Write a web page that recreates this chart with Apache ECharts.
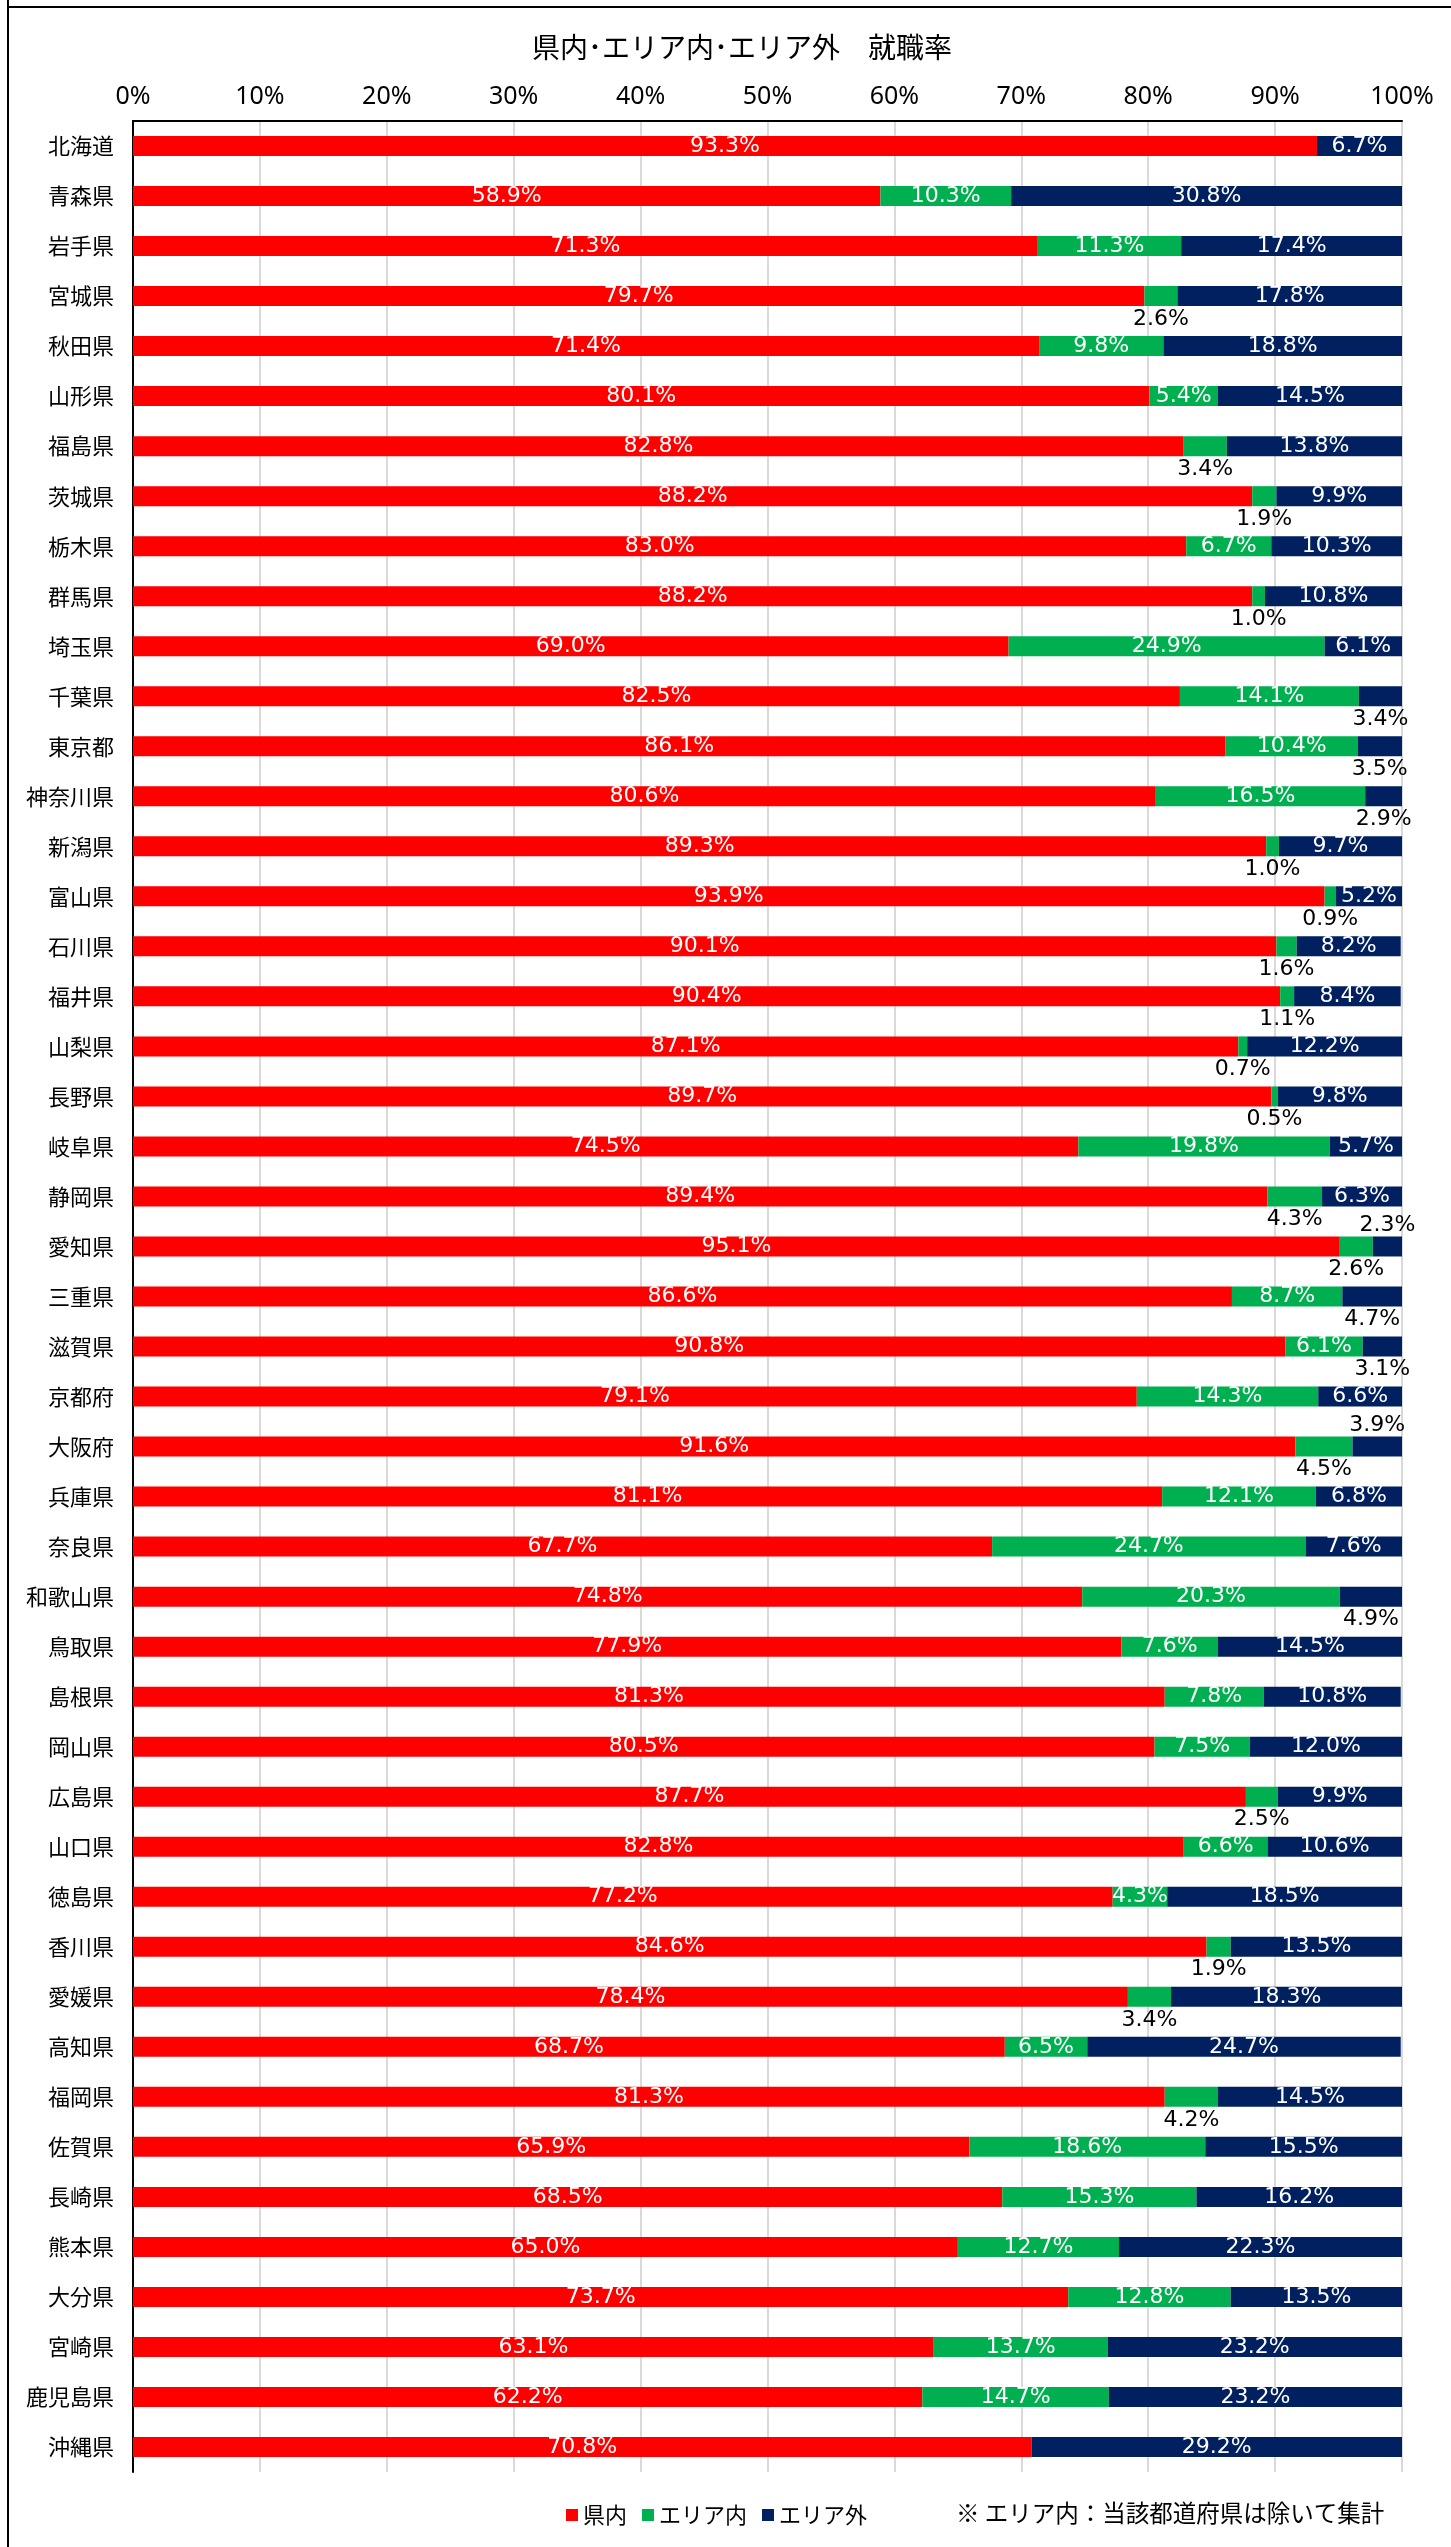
<!DOCTYPE html>
<html>
<head>
<meta charset="utf-8">
<script src="https://cdn.jsdelivr.net/npm/echarts@6/dist/echarts.min.js"></script>
<style>
  html, body { margin: 0; padding: 0; background: #fff; }
  #chart { width: 1451px; height: 2547px; }
</style>
</head>
<body>
<div id="chart"></div>
<script>
// ---------------- DATA ----------------
const categories = [
  '北海道','青森県','岩手県','宮城県','秋田県','山形県','福島県','茨城県','栃木県','群馬県',
  '埼玉県','千葉県','東京都','神奈川県','新潟県','富山県','石川県','福井県','山梨県','長野県',
  '岐阜県','静岡県','愛知県','三重県','滋賀県','京都府','大阪府','兵庫県','奈良県','和歌山県',
  '鳥取県','島根県','岡山県','広島県','山口県','徳島県','香川県','愛媛県','高知県','福岡県',
  '佐賀県','長崎県','熊本県','大分県','宮崎県','鹿児島県','沖縄県'
];
const seriesNames = ['県内', 'エリア内', 'エリア外'];
const inPrefecture = [
  93.3, 58.9, 71.3, 79.7, 71.4, 80.1, 82.8, 88.2, 83.0, 88.2,
  69.0, 82.5, 86.1, 80.6, 89.3, 93.9, 90.1, 90.4, 87.1, 89.7,
  74.5, 89.4, 95.1, 86.6, 90.8, 79.1, 91.6, 81.1, 67.7, 74.8,
  77.9, 81.3, 80.5, 87.7, 82.8, 77.2, 84.6, 78.4, 68.7, 81.3,
  65.9, 68.5, 65.0, 73.7, 63.1, 62.2, 70.8
];
const inArea = [
  0, 10.3, 11.3, 2.6, 9.8, 5.4, 3.4, 1.9, 6.7, 1.0,
  24.9, 14.1, 10.4, 16.5, 1.0, 0.9, 1.6, 1.1, 0.7, 0.5,
  19.8, 4.3, 2.6, 8.7, 6.1, 14.3, 4.5, 12.1, 24.7, 20.3,
  7.6, 7.8, 7.5, 2.5, 6.6, 4.3, 1.9, 3.4, 6.5, 4.2,
  18.6, 15.3, 12.7, 12.8, 13.7, 14.7, 0
];
const outArea = [
  6.7, 30.8, 17.4, 17.8, 18.8, 14.5, 13.8, 9.9, 10.3, 10.8,
  6.1, 3.4, 3.5, 2.9, 9.7, 5.2, 8.2, 8.4, 12.2, 9.8,
  5.7, 6.3, 2.3, 4.7, 3.1, 6.6, 3.9, 6.8, 7.6, 4.9,
  14.5, 10.8, 12.0, 9.9, 10.6, 18.5, 13.5, 18.3, 24.7, 14.5,
  15.5, 16.2, 22.3, 13.5, 23.2, 23.2, 29.2
];
const noteText = '※ エリア内：当該都道府県は除いて集計';
const titleText = '県内･エリア内･エリア外　就職率';

// ---------------- LABEL PLACEMENT (annotation layout) ----------------
const greenBelow = new Set(['宮城県','福島県','茨城県','群馬県','新潟県','富山県','石川県','福井県','山梨県','長野県','静岡県','愛知県','大阪府','広島県','香川県','愛媛県','福岡県']);
const navyBelow = new Set(['千葉県','東京都','神奈川県','三重県','滋賀県','和歌山県']);
const navyAbove = new Set(['愛知県','大阪府']);

const COLORS = ['#FF0000', '#00B050', '#002060'];
const LABEL_FONT = 'DejaVu Sans';
const JP_FONT = '"Noto Sans CJK JP", "Noto Sans", sans-serif';

function buildData(values, belowSet, aboveSet) {
  return values.map((v, i) => {
    const name = categories[i];
    if (!v) return { value: v, label: { show: false } };
    if (belowSet && belowSet.has(name)) return { value: v, label: { offset: [0, 23], color: '#000' } };
    if (aboveSet && aboveSet.has(name)) return { value: v, label: { offset: [0, -21], color: '#000' } };
    return v;
  });
}

const baseLabel = {
  show: true,
  position: 'inside',
  color: '#fff',
  fontSize: 22,
  fontFamily: LABEL_FONT,
  formatter: p => (p.value ? p.value.toFixed(1) + '%' : '')
};

const chart = echarts.init(document.getElementById('chart'), null, { renderer: 'canvas' });
chart.setOption({
  animation: false,
  backgroundColor: '#fff',
  color: COLORS,
  title: {
    text: titleText,
    left: 737,
    top: 28,
    textAlign: 'center',
    textStyle: { fontSize: 28, fontWeight: 'normal', color: '#000', fontFamily: JP_FONT }
  },
  legend: {
    data: seriesNames,
    left: 561,
    top: 2499,
    icon: 'rect',
    itemWidth: 12,
    itemHeight: 12,
    itemGap: 15,
    textStyle: { fontSize: 22, color: '#000', fontFamily: JP_FONT, padding: [0, 0, 0, 0] }
  },
  grid: { left: 133, right: 49, top: 121, bottom: 75, containLabel: false },
  xAxis: {
    type: 'value',
    position: 'top',
    min: 0,
    max: 100,
    interval: 10,
    axisLine: { show: true, lineStyle: { color: '#000', width: 2 } },
    axisTick: { show: false },
    axisLabel: { formatter: '{value}%', fontSize: 25, color: '#000', margin: 12, fontFamily: '"Noto Sans", sans-serif' },
    splitLine: { show: true, lineStyle: { color: '#d9d9d9', width: 2 } }
  },
  yAxis: {
    type: 'category',
    data: categories,
    inverse: true,
    axisLine: { show: true, lineStyle: { color: '#000', width: 2 } },
    axisTick: { show: false },
    axisLabel: { fontSize: 22, color: '#000', margin: 19, fontFamily: JP_FONT }
  },
  graphic: [
    { type: 'line', shape: { x1: 8, y1: 0, x2: 8, y2: 2547 }, style: { stroke: '#000', lineWidth: 2 } },
    { type: 'line', shape: { x1: 7, y1: 7, x2: 1451, y2: 7 }, style: { stroke: '#000', lineWidth: 2 } },
    { type: 'text', left: 956, top: 2501, style: { text: noteText, fill: '#000', font: '23.5px "Noto Sans CJK JP"' } }
  ],
  series: [
    { name: seriesNames[0], type: 'bar', stack: 'total', barWidth: 20, label: baseLabel,
      data: buildData(inPrefecture) },
    { name: seriesNames[1], type: 'bar', stack: 'total', barWidth: 20, label: baseLabel,
      data: buildData(inArea, greenBelow, null) },
    { name: seriesNames[2], type: 'bar', stack: 'total', barWidth: 20, label: baseLabel,
      data: buildData(outArea, navyBelow, navyAbove) }
  ]
});
</script>
</body>
</html>
